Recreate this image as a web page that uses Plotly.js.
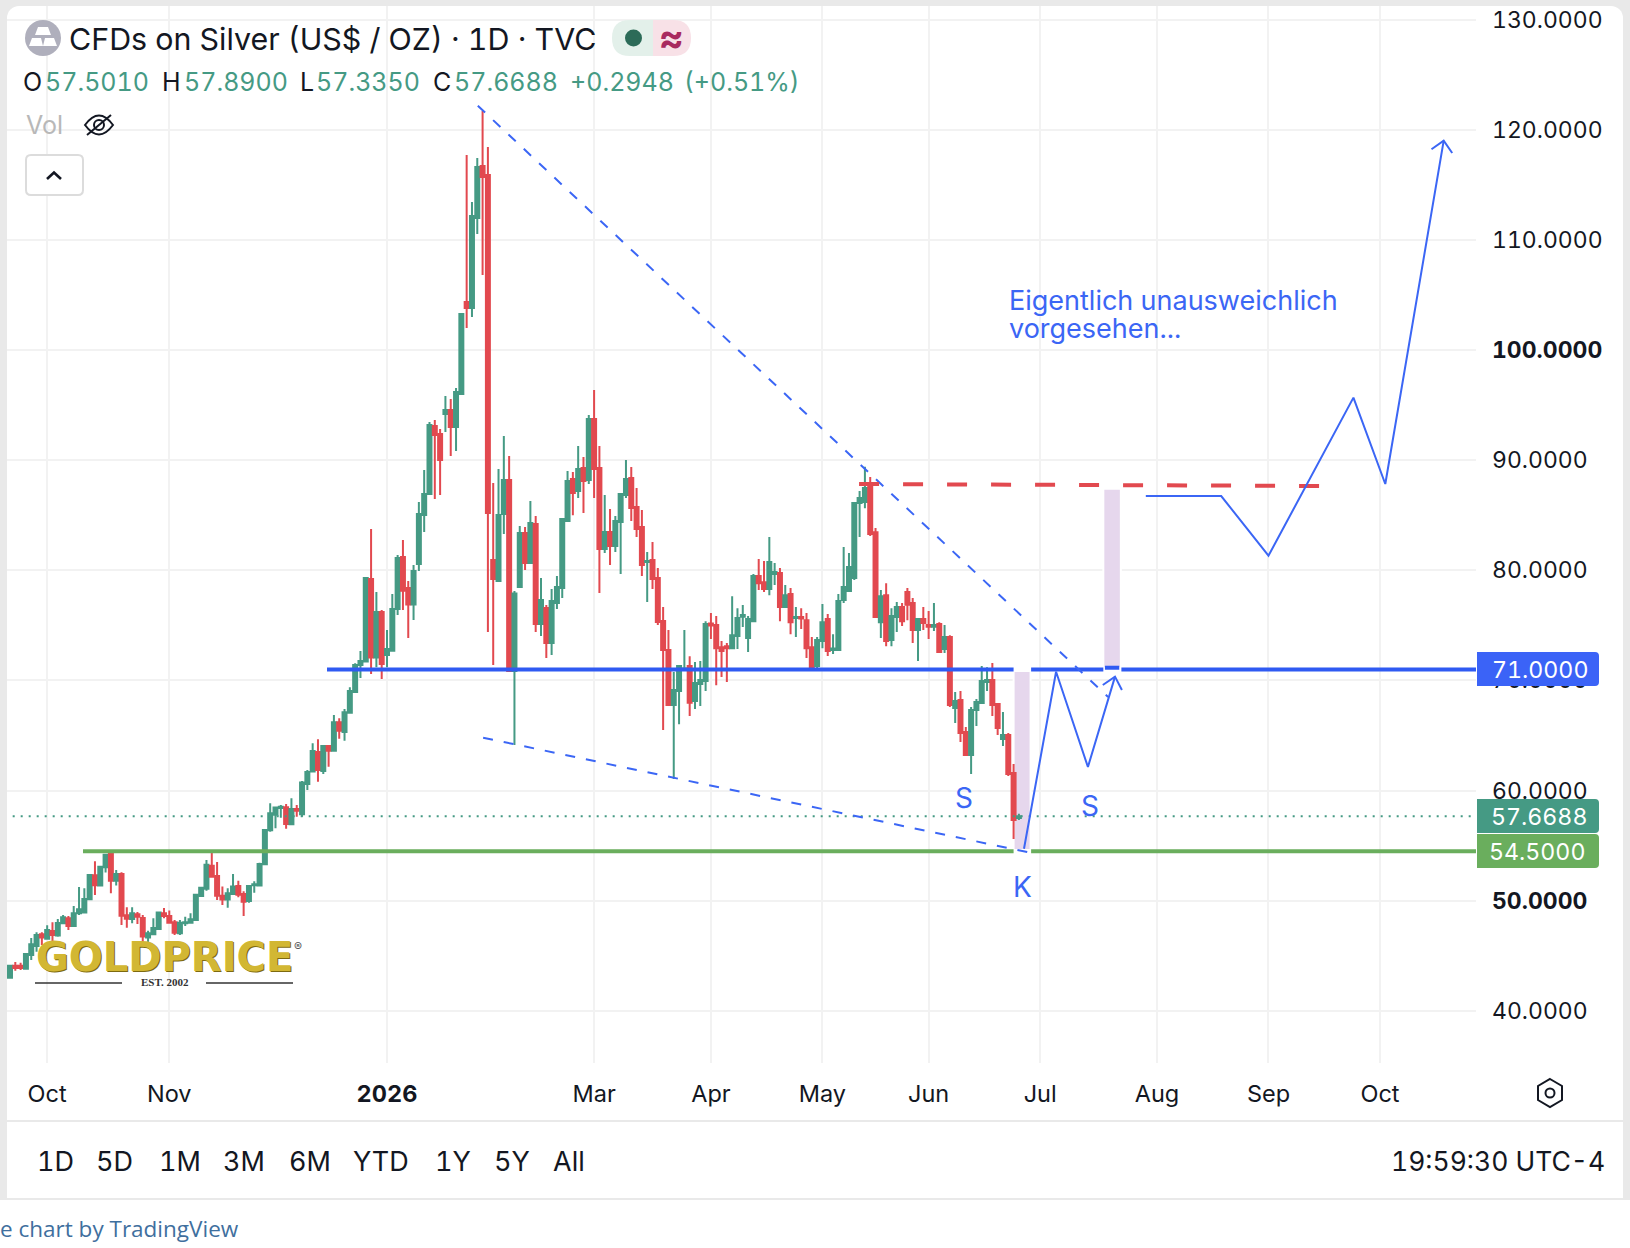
<!DOCTYPE html>
<html><head><meta charset="utf-8">
<script src="https://cdn.plot.ly/plotly-3.0.1.min.js"></script>
<style>
html,body{margin:0;padding:0;background:#fff;overflow:hidden}
#frame{position:absolute;left:0;top:0;width:1630px;height:1200px;background:#e9e9e9}
#panel{position:absolute;left:7px;top:6px;width:1616px;height:1114px;background:#fff;border-radius:12px 12px 0 0}
#tools{position:absolute;left:7px;top:1122px;width:1616px;height:76px;background:#fff}
#chart{position:absolute;left:0;top:0;width:1630px;height:1248px}
#chart text{font-variant-numeric:tabular-nums;font-feature-settings:"tnum"}
</style></head><body>
<div id="frame"></div><div id="panel"></div><div id="tools"></div><div id="chart"></div>
<script>
// Daily candles
const opens=[43.0,44.1,44.1,43.83,45.07,45.89,46.95,46.55,47.25,46.83,
47.95,48.4,47.7,48.85,48.92,50.13,52.31,51.37,53.03,54.24,
51.82,52.43,48.67,48.34,48.76,48.43,46.67,46.95,47.43,48.85,
48.61,48.04,47.04,47.95,48.0,48.25,50.43,51.09,53.18,52.24,
50.46,50.1,50.61,51.34,50.61,49.98,51.4,51.37,53.3,56.39,
57.81,58.42,58.48,56.94,58.33,57.84,60.6,61.74,63.5,61.78,
64.04,63.62,66.19,65.32,67.07,68.95,71.4,71.71,79.21,72.07,
76.22,72.31,72.7,76.49,81.21,78.39,76.88,80.57,85.02,86.93,
93.1,92.37,94.18,94.55,93.0,96.0,104.35,103.81,111.98,116.7,
115.88,80.93,79.02,85.1,88.19,70.85,78.48,83.38,80.66,84.2,
75.12,76.57,73.39,77.03,78.39,84.47,88.28,87.19,89.28,88.19,
93.73,89.28,81.93,83.47,82.2,84.38,86.83,88.37,85.74,83.92,
80.75,80.93,79.29,75.39,72.76,67.77,69.03,71.0,71.3,68.12,
69.67,69.94,75.17,75.02,73.02,73.11,72.93,74.02,75.78,73.84,
75.38,79.47,78.92,78.29,79.65,79.74,76.66,77.84,75.66,75.75,
75.47,73.02,71.3,73.57,75.57,72.75,72.75,77.29,78.11,79.29,
86.1,86.19,87.82,83.46,75.29,77.74,73.66,75.75,76.66,78.02,
77.02,74.57,75.57,75.02,74.87,75.11,72.84,73.93,67.49,68.22,
65.32,63.23,67.31,67.95,69.86,70.04,67.86,64.68,65.04,61.59,
57.501];
const highs=[44.1,44.43,44.37,45.22,46.61,47.13,47.13,47.76,48.04,48.34,
48.7,48.61,49.52,51.25,51.12,52.43,53.58,53.18,54.24,54.45,
52.79,52.58,49.4,49.4,48.98,48.7,47.28,48.4,48.94,49.34,
49.1,48.25,48.25,48.55,48.85,50.61,51.22,53.7,54.45,53.52,
51.28,51.12,52.43,51.82,50.85,51.43,51.76,53.45,56.48,58.84,
58.54,58.69,58.78,59.29,58.69,60.87,61.87,64.29,64.65,64.07,
64.14,66.86,66.56,67.4,69.37,71.55,72.67,79.3,83.75,78.03,
76.4,74.58,77.85,81.39,82.75,79.03,80.48,86.2,89.1,93.46,
93.64,92.82,95.82,95.55,96.54,103.27,117.7,113.43,117.43,121.69,
118.43,87.92,89.19,92.19,90.37,78.12,84.02,83.93,86.29,84.92,
79.3,76.84,78.3,79.48,84.65,89.0,88.92,91.28,90.28,94.09,
96.36,91.28,86.83,85.56,84.92,87.0,90.0,89.37,87.47,85.47,
81.66,82.56,80.2,76.66,74.58,70.76,71.3,74.57,72.2,71.66,
71.75,75.38,76.11,75.84,73.57,73.39,77.65,76.56,76.84,75.84,
79.65,81.01,80.83,83.01,80.65,80.2,78.65,78.38,76.66,76.56,
76.11,73.93,73.93,76.93,76.02,74.2,77.84,82.1,81.56,86.19,
87.19,89.39,88.46,83.83,78.2,78.83,76.56,77.11,77.02,78.38,
77.47,75.57,76.66,76.29,77.02,75.29,75.02,74.11,68.94,69.04,
65.77,67.58,68.31,71.31,71.19,71.58,67.86,67.13,65.22,62.41,
57.89];
const lows=[43.0,43.65,43.71,43.83,44.62,45.37,45.98,46.55,46.13,46.73,
47.88,47.34,47.7,48.7,48.85,50.07,50.52,51.37,52.55,50.67,
51.37,47.8,47.55,47.95,47.88,46.13,45.98,46.89,47.34,48.4,
48.0,46.89,46.89,47.7,48.0,48.25,50.37,50.91,52.12,50.07,
49.61,49.37,50.52,50.31,48.61,49.82,50.73,51.37,53.3,56.27,
56.57,57.54,56.54,56.84,57.63,57.63,60.05,61.74,60.81,61.5,
62.17,63.62,64.71,64.53,67.07,68.89,70.22,71.71,70.59,71.19,
70.13,71.19,72.7,75.94,76.4,73.85,75.49,79.94,83.48,86.93,
86.47,86.83,92.55,90.37,90.83,96.0,102.0,103.0,110.53,106.81,
74.39,71.4,79.02,83.29,70.85,64.13,78.48,80.02,80.66,74.39,
74.03,72.03,72.31,76.48,77.48,84.47,85.0,86.56,85.2,87.83,
86.56,77.93,81.57,80.48,81.66,79.66,86.56,84.47,83.02,79.48,
77.12,78.3,75.03,65.5,67.68,61.05,66.03,71.0,66.76,67.4,
67.67,69.03,73.75,69.57,70.3,69.85,72.93,72.84,74.84,72.57,
75.38,78.2,78.02,77.74,78.65,75.38,76.66,74.2,73.93,74.66,
72.03,70.85,71.12,72.93,72.21,72.39,72.66,77.02,78.11,79.11,
83.01,85.64,83.1,75.75,73.84,73.11,73.11,74.39,74.93,75.47,
73.39,71.75,74.57,73.75,74.48,72.57,72.48,67.58,66.13,64.41,
63.23,61.5,65.86,67.95,69.04,66.77,65.04,64.04,61.32,55.6,
57.335];
const closes=[44.1,43.9,43.9,45.16,46.04,46.89,46.67,47.34,46.89,47.98,
48.49,47.7,48.85,49.22,50.16,52.34,51.4,53.09,54.18,51.82,
52.43,48.64,48.37,48.85,48.55,46.74,47.04,47.52,48.94,48.61,
48.0,47.1,48.0,48.04,48.31,50.55,51.18,53.27,52.18,50.46,
50.1,50.67,51.28,50.55,49.91,51.34,51.49,53.33,56.42,57.93,
58.45,58.54,56.97,58.33,58.17,60.72,61.68,63.59,61.87,64.04,
63.62,66.19,65.44,67.1,69.04,71.4,71.77,79.3,72.07,76.22,
71.5,72.86,76.49,81.12,78.15,76.88,79.94,85.11,86.93,93.19,
92.28,90.01,94.55,93.0,96.18,103.27,103.81,112.16,116.6,115.7,
85.2,79.2,85.01,88.19,70.85,77.9,83.38,80.66,84.29,75.12,
77.3,73.39,77.21,78.48,84.65,88.1,87.01,89.19,88.1,93.73,
89.19,81.93,83.47,82.2,84.47,86.92,88.28,85.65,83.74,80.48,
80.84,79.2,75.3,72.76,67.77,69.13,71.3,71.09,67.97,69.76,
70.03,75.11,74.99,72.93,72.66,72.93,74.11,75.66,75.93,75.57,
79.47,78.83,78.29,80.74,79.83,76.66,77.74,75.29,75.75,75.63,
72.93,71.12,73.66,75.29,72.66,72.9,77.2,78.47,80.29,86.1,
86.55,87.46,83.28,75.75,77.65,73.57,75.84,76.66,75.38,76.87,
74.57,75.57,75.2,74.87,75.02,72.57,73.93,67.76,68.12,65.22,
63.23,67.31,68.04,69.95,70.04,67.77,65.68,65.04,61.5,57.33,
57.6688];

// Axis ticks
const monthTicks=[7,30,71,110,132,153,173,194,216,237,258];
const monthLabels=['Oct','Nov','<b>2026</b>','Mar','Apr','May','Jun','Jul','Aug','Sep','Oct'];
const priceTicks=[40,50,60,70,80,90,100,110,120,130];
const priceLabels=['40.0000','<b>50.0000</b>','60.0000','70.0000','80.0000','90.0000','<b>100.0000</b>','110.0000','120.0000','130.0000'];

// Drawn lines (bar index, price)
const upperTrendX=[88.1,206.8],  upperTrendY=[122.17,68.49];
const lowerTrendX=[89.1,192.1],  lowerTrendY=[64.8,54.36];
const redLevelX=[159.9,246.7],   redLevelY=[87.83,87.65];
const blueLevelX=[59.7,189,null,192.3,205.9,null,206.2,208.9,null,209.3,277];
const blueLevelY=[71,71,null,71,71,null,71.15,71.15,null,71,71];
const greenLevelX=[13.75,189,null,192.3,277];
const greenLevelY=[54.5,54.5,null,54.5,54.5];
const lastPrice=57.6688;
const pathAX=[190.96,197,203,208.1,null,205.8,208.1,209.4];
const pathAY=[54.72,70.79,62.14,70.34,null,69.58,70.34,69.13];
const pathBX=[213.9,228.1,237,253,259,270,null,267.7,270,271.6];
const pathBY=[86.74,86.74,81.32,95.67,87.83,119,null,118.22,119,117.88];
const zoneAX=[189,192.2], zoneAY=[54.6,70.85];
const zoneBX=[205.9,209.2], zoneBY=[71.15,87.4];

// Plot box in page pixels
const L=7,R=1476,T=6,B=1063;
const fx=p=>(p-L)/(R-L), fy=p=>(B-p)/(B-T);
const P=(cmds)=>cmds.map(c=>typeof c==='string'?c:fx(c[0]).toFixed(5)+' '+fy(c[1]).toFixed(5)).join(' ');
const rr=(x0,y0,x1,y1,tl,tr,br,bl)=>P(['M',[x0+tl,y0],'L',[x1-tr,y0],'Q',[x1,y0],[x1,y0+tr],'L',[x1,y1-br],'Q',[x1,y1],[x1-br,y1],'L',[x0+bl,y1],'Q',[x0,y1],[x0,y1-bl],'L',[x0,y0+tl],'Q',[x0,y0],[x0+tl,y0],'Z']);

const INK='#131722', UP='#459a84', DOWN='#e2494f', BLUE='#3b66f5';
const pshape=(path,fill,line,w)=>({type:'path',xref:'paper',yref:'paper',layer:'above',path,fillcolor:fill||'rgba(0,0,0,0)',line:{color:line||'rgba(0,0,0,0)',width:w||0}});
const T_=(text,x,y,size,color,anchor,extra)=>Object.assign({text,xref:'paper',yref:'paper',x:fx(x),y:fy(y),xanchor:anchor||'left',yanchor:'middle',showarrow:false,align:'left',borderpad:0,font:{family:'Inter, sans-serif',size,color}},extra||{});

const line=(x,y,color,width,dash)=>({type:'scatter',mode:'lines',x,y,line:{color,width,dash:dash||'solid'},hoverinfo:'skip',connectgaps:false});
const xs=opens.map((_,i)=>i);
const traces=[
 {type:'candlestick',x:xs,open:opens,high:highs,low:lows,close:closes,whiskerwidth:0,hoverinfo:'skip',
  increasing:{line:{color:UP,width:2},fillcolor:UP},decreasing:{line:{color:DOWN,width:2},fillcolor:DOWN}},
 line([-1,277],[lastPrice,lastPrice],UP,2,'2px,6px'),
 line(blueLevelX,blueLevelY,'#2f5af2',4),
 line(greenLevelX,greenLevelY,'#6aae5d',4),
 line(upperTrendX,upperTrendY,BLUE,2,'10px,11px'),
 line(lowerTrendX,lowerTrendY,BLUE,2,'10px,11px'),
 line(redLevelX,redLevelY,DOWN,4,'20px,24px'),
 line(pathAX,pathAY,BLUE,2),
 line(pathBX,pathBY,BLUE,2)
];

const zone=(xr,yr)=>({type:'rect',xref:'x',yref:'y',layer:'between',x0:xr[0],x1:xr[1],y0:yr[0],y1:yr[1],fillcolor:'#e6d7ed',line:{color:'#ffffff',width:2}});
const shapes=[
 zone(zoneAX,zoneAY),zone(zoneBX,zoneBY),
 // header icon and status pill
 {type:'circle',xref:'paper',yref:'paper',layer:'above',x0:fx(25),x1:fx(61),y0:fy(56),y1:fy(20),fillcolor:'#afafbc',line:{width:0}},
 pshape(P(['M',[38,27],'L',[48,27],'L',[51,35],'L',[35,35],'Z']),'#fff'),
 pshape(P(['M',[32,38],'L',[41,38],'L',[43,46],'L',[29,46],'Z']),'#fff'),
 pshape(P(['M',[45,38],'L',[54,38],'L',[57,46],'L',[43,46],'Z']),'#fff'),
 pshape(rr(612,20,653,56,18,0,0,18),'#e3f0ea'),
 pshape(rr(653,20,691,56,0,18,18,0),'#f8e1e7'),
 {type:'circle',xref:'paper',yref:'paper',layer:'above',x0:fx(625),x1:fx(642),y0:fy(46.5),y1:fy(29.5),fillcolor:'#2c6b58',line:{width:0}},
 // hidden volume eye
 pshape(P(['M',[85,125],'Q',[99,106],[113,125],'Q',[99,144],[85,125],'Z']),null,INK,2),
 pshape(P(['M',[87,135],'L',[111,115]]),null,INK,2),
 {type:'circle',xref:'paper',yref:'paper',layer:'above',x0:fx(94),x1:fx(104),y0:fy(130),y1:fy(120),line:{color:INK,width:2}},
 // collapse button
 pshape(rr(26,155,83,195,5,5,5,5),'#fff','#dcdcdc',2),
 pshape(P(['M',[47,179],'L',[54,172.5],'L',[61,179]]),null,INK,2.6),
 // right-hand price flags
 pshape(rr(1477,652,1599,686,0,4,4,0),'#3b63f7'),
 pshape(rr(1477,799,1599,833,0,4,4,0),'#459a84'),
 pshape(rr(1477,834,1599,868,0,4,4,0),'#6aae5d'),
 // logo rules
 pshape(P(['M',[35,983],'L',[122,983]]),null,'#333',1.5),
 pshape(P(['M',[206,983],'L',[293,983]]),null,'#333',1.5),
 // settings hexagon
 pshape(P(['M',[1550,1079],'L',[1562,1086],'L',[1562,1100],'L',[1550,1107],'L',[1538,1100],'L',[1538,1086],'Z']),null,INK,2),
 {type:'circle',xref:'paper',yref:'paper',layer:'above',x0:fx(1545.5),x1:fx(1554.5),y0:fy(1097.5),y1:fy(1088.5),line:{color:INK,width:2}}
];

const annotations=[
 T_('CFDs on Silver (US$ / OZ) · 1D · TVC',68,39,30.4,INK),
 T_('<b>≈</b>',672,37,38,'#a82a5f','center'),
 T_('O',22,82,25,INK),T_('57.5010',44,82,25,UP),
 T_('H',161,82,25,INK),T_('57.8900',183,82,25,UP),
 T_('L',299,82,25,INK),T_('57.3350',315,82,25,UP),
 T_('C',432,82,25,INK),T_('57.6688',453,82,25,UP),
 T_('+0.2948',569,82,25,UP),T_('(+0.51%)',683,82,25,UP),
 T_('Vol',25,125,25,'#b8b8b8'),
 T_('71.0000',1535,670,23.2,'#fff','center'),
 T_('57.6688',1535,817,23.2,'#fff','center'),
 T_('54.5000',1535,852,23.2,'#fff','center'),
 T_('Eigentlich unausweichlich',1008,301,27,BLUE),
 T_('vorgesehen...',1008,328,27,BLUE),
 T_('S',964,798,28,BLUE,'center'),
 T_('S',1090,806,28,BLUE,'center'),
 T_('K',1022,887,28,BLUE,'center'),
 T_('<b>GOLDPRICE</b>',164,957,40,'#d2b733','center',{}),
 T_('®',298,946,12,'#555','center'),
 T_('<b>EST. 2002</b>',165,982,11,'#333','center'),
 T_('1D',52,1161,27,INK,'center'),T_('5D',114,1161,27,INK,'center'),T_('1M',176,1161,27,INK,'center'),
 T_('3M',244,1161,27,INK,'center'),T_('6M',309,1161,27,INK,'center'),T_('YTD',381,1161,27,INK,'center'),
 T_('1Y',449,1161,27,INK,'center'),T_('5Y',511,1161,27,INK,'center'),T_('All',569,1161,27,INK,'center'),
 T_('19:59:30 UTC-4',1390,1161,26.5,INK,'left'),
 T_('e chart by TradingView',-1,1228,22.5,'#3f6f9e','left',{font:{family:'Open Sans, sans-serif',size:22.5,color:'#3f6f9e'}})
];
annotations.find(a=>a.text.includes('GOLDPRICE')).font.family='DejaVu Sans, sans-serif';
annotations.find(a=>a.text.includes('GOLDPRICE')).font.shadow='1px 1px 0 #7d6a10';
annotations.find(a=>a.text.includes('EST.')).font.family='Liberation Serif, serif';

const layout={
 width:1630,height:1248,margin:{l:L,r:1630-R,t:T,b:1248-B,pad:0},
 paper_bgcolor:'rgba(0,0,0,0)',plot_bgcolor:'rgba(0,0,0,0)',showlegend:false,boxgap:0.25,boxgroupgap:0,
 font:{family:'Inter, sans-serif',color:INK},
 xaxis:{type:'linear',range:[(L-10)/5.31,(R-10)/5.31],tickmode:'array',tickvals:monthTicks,ticktext:monthLabels,
  tickfont:{size:23.5,color:INK},ticks:'',ticklabelstandoff:14,showgrid:true,gridcolor:'#f2f2f2',gridwidth:2,zeroline:false,showline:false,
  rangeslider:{visible:false},fixedrange:true},
 yaxis:{side:'right',range:[130-(B-19.5)/11.015,130+(19.5-T)/11.015],tickmode:'array',tickvals:priceTicks,ticktext:priceLabels,
  tickfont:{size:23,color:INK},ticks:'',ticklabelstandoff:15,showgrid:true,gridcolor:'#f2f2f2',gridwidth:2,zeroline:false,showline:false,fixedrange:true},
 shapes,annotations
};
Plotly.newPlot('chart',traces,layout,{staticPlot:true,displayModeBar:false});
</script></body></html>
